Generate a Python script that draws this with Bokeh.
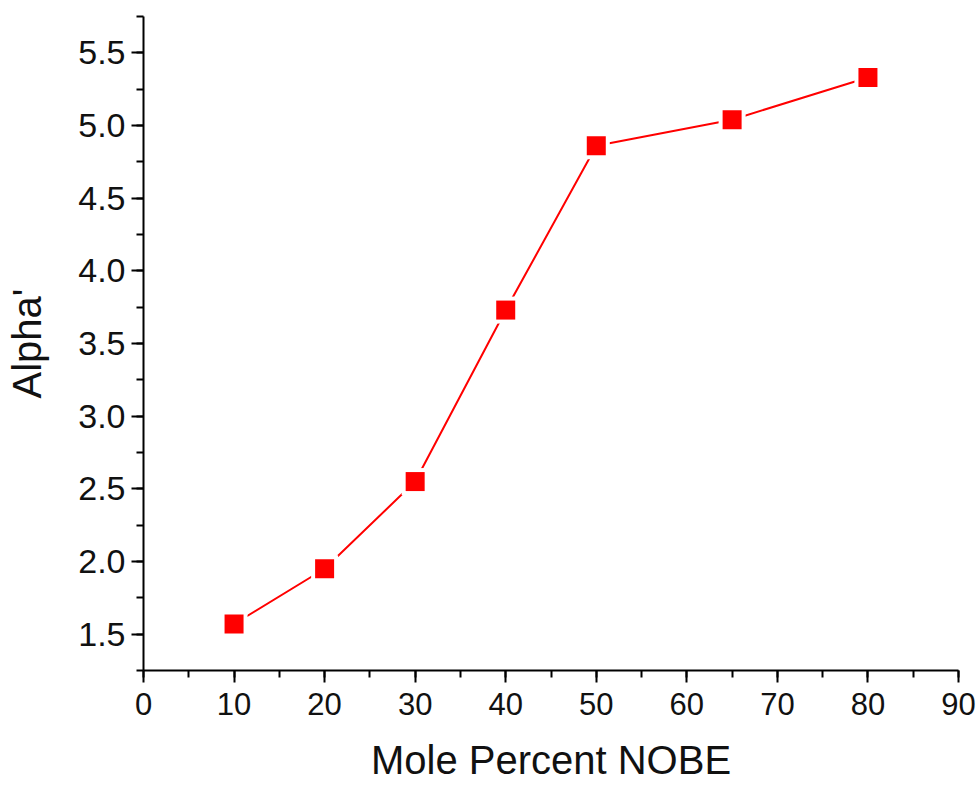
from bokeh.plotting import figure
from bokeh.models import SingleIntervalTicker, PrintfTickFormatter, Range1d
from bokeh.embed import file_html
from bokeh.resources import INLINE

mole_percent = [10, 20, 30, 40, 50, 65, 80]
alpha_prime = [1.57, 1.95, 2.55, 3.73, 4.86, 5.04, 5.33]

p = figure(width=979, height=785, output_backend="svg", toolbar_location=None,
           x_range=Range1d(0, 90), y_range=Range1d(1.25, 5.75),
           min_border_left=143, min_border_right=21, min_border_top=16, min_border_bottom=115)
p.outline_line_color = None
p.xgrid.visible = False
p.ygrid.visible = False
p.background_fill_color = "white"
p.border_fill_color = "white"

p.line(mole_percent, alpha_prime, line_color="#ff0000", line_width=2)
p.scatter(mole_percent, alpha_prime, marker="square", size=27, fill_color="white", line_color=None)
p.scatter(mole_percent, alpha_prime, marker="square", size=19, fill_color="#ff0000", line_color=None)

p.xaxis.ticker = SingleIntervalTicker(interval=10, num_minor_ticks=2)
p.yaxis.ticker = SingleIntervalTicker(interval=0.5, num_minor_ticks=2)
p.yaxis.formatter = PrintfTickFormatter(format="%.1f")

p.xaxis.axis_label = "Mole Percent NOBE"
p.yaxis.axis_label = "Alpha'"

for ax in (p.xaxis, p.yaxis):
    ax.axis_line_width = 2
    ax.axis_line_color = "black"
    ax.major_tick_line_width = 2
    ax.minor_tick_line_width = 2
    ax.major_tick_out = 12
    ax.major_tick_in = 0
    ax.minor_tick_out = 7
    ax.minor_tick_in = 0
    ax.major_label_text_font = "Liberation Sans"
    ax.major_label_text_color = "#111111"
    ax.axis_label_text_font = "Liberation Sans"
    ax.axis_label_text_font_size = "40px"
    ax.axis_label_text_font_style = "normal"
    ax.axis_label_text_color = "#111111"

p.xaxis.major_label_text_font_size = "31px"
p.yaxis.major_label_text_font_size = "34px"
p.xaxis.major_label_standoff = 10
p.yaxis.major_label_standoff = 6
p.xaxis.axis_label_standoff = 20
p.yaxis.axis_label_standoff = 26

open("out.html", "w").write(file_html(p, INLINE))
